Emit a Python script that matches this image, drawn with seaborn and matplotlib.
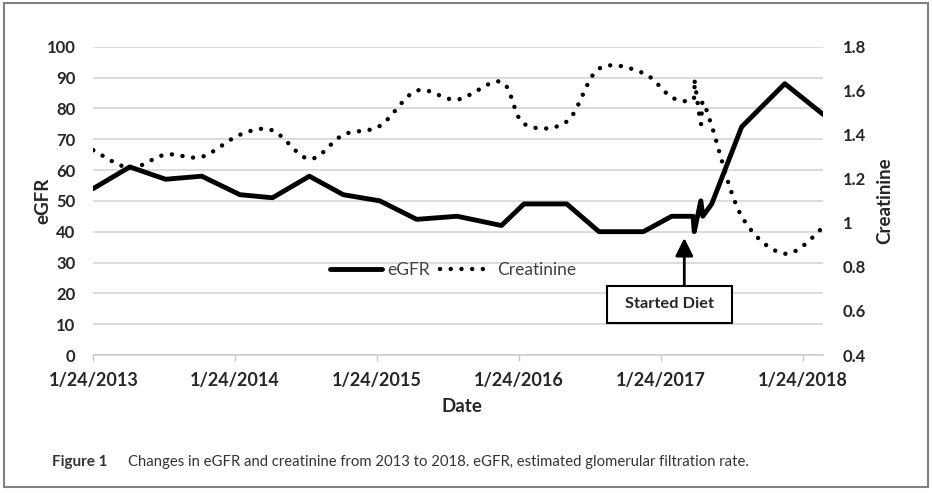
import numpy as np
import pandas as pd
import seaborn as sns
import matplotlib.pyplot as plt
import matplotlib.dates as mdates
from matplotlib.path import Path
from matplotlib.patches import PathPatch, Rectangle
from matplotlib.lines import Line2D

# values
dates = ['2013-01-24', '2013-04-28', '2013-07-29', '2013-10-30', '2014-02-05',
         '2014-04-30', '2014-08-03', '2014-10-29', '2015-01-31', '2015-05-06',
         '2015-08-18', '2015-12-10', '2016-02-06', '2016-05-26', '2016-08-17',
         '2016-12-09', '2017-02-20', '2017-04-16', '2017-04-19', '2017-05-06',
         '2017-05-11', '2017-06-03', '2017-08-19', '2017-12-08', '2018-03-17']
egfr = [54, 61, 57, 58, 52, 51, 58, 52, 50, 44, 45, 42, 49, 49, 40, 40, 45, 45,
        40, 50, 45, 49, 74, 88, 78]
creatinine = [1.33, 1.25, 1.31, 1.30, 1.40, 1.42, 1.29, 1.40, 1.44, 1.60, 1.56,
              1.64, 1.45, 1.46, 1.70, 1.68, 1.57, 1.56, 1.65, 1.45, 1.55, 1.44,
              1.03, 0.86, 0.98]

tick_dates = ['2013-01-24', '2014-01-24', '2015-01-24', '2016-01-24',
              '2017-01-24', '2018-01-24']
tick_labels = ['1/24/2013', '1/24/2014', '1/24/2015', '1/24/2016',
               '1/24/2017', '1/24/2018']
egfr_ticks = list(range(0, 101, 10))
creat_ticks = [0.4, 0.6, 0.8, 1.0, 1.2, 1.4, 1.6, 1.8]
creat_labels = ['0.4', '0.6', '0.8', '1', '1.2', '1.4', '1.6', '1.8']

sns.set_theme(style='white')
plt.rcParams['font.family'] = ['Lato', 'DejaVu Sans']

df = pd.DataFrame({'Date': pd.to_datetime(dates), 'eGFR': egfr,
                   'Creatinine': creatinine})

DOTS = (0, (0.01, 2.4))


def smooth_path(x, y):
    # excel-like smoothed line: catmull-rom segments as cubic beziers
    pts = np.column_stack([x, y])
    ext = np.vstack([pts[0], pts, pts[-1]])
    verts = [pts[0]]
    codes = [Path.MOVETO]
    for i in range(len(pts) - 1):
        p0, p1, p2, p3 = ext[i], ext[i + 1], ext[i + 2], ext[i + 3]
        verts += [p1 + (p2 - p0) / 6, p2 - (p3 - p1) / 6, p2]
        codes += [Path.CURVE4] * 3
    return Path(verts, codes)


fig = plt.figure(figsize=(9.33, 4.93), dpi=100)
ax = fig.add_axes([0.1, 0.2799, 0.7824, 0.6254])

sns.lineplot(data=df, x='Date', y='eGFR', ax=ax, color='black', linewidth=3.5,
             legend=False, solid_joinstyle='round')
ax.set_xlim(df['Date'].iloc[0], df['Date'].iloc[-1])
ax.set_ylim(0, 100)
ax.set_yticks(egfr_ticks)
ax.set_yticklabels([str(t) for t in egfr_ticks])
ax.set_xticks(pd.to_datetime(tick_dates))
ax.set_xticklabels(tick_labels)
ax.yaxis.grid(True, color='#d9d9d9', linewidth=1.3)
ax.set_axisbelow(True)
for s in ['top', 'left', 'right']:
    ax.spines[s].set_visible(False)
ax.spines['bottom'].set_color('#d0d0d0')
ax.spines['bottom'].set_linewidth(1.3)
ax.tick_params(axis='x', length=4, width=1, color='#c8c8c8', pad=8,
               labelsize=13, bottom=True)
ax.tick_params(axis='y', length=0, pad=13, labelsize=12)
for lab in ax.get_xticklabels() + ax.get_yticklabels():
    lab.set_fontweight('bold')
ax.set_xlabel('Date', fontsize=13.5, fontweight='bold')
ax.set_ylabel('eGFR', fontsize=13.5, fontweight='bold')
ax.xaxis.set_label_coords(0.505, -0.14)
ax.yaxis.set_label_coords(-0.058, 0.5)

ax2 = ax.twinx()
ax2.set_ylim(0.4, 1.8)
ax2.set_yticks(creat_ticks)
ax2.set_yticklabels(creat_labels)
for s in ax2.spines.values():
    s.set_visible(False)
ax2.tick_params(axis='y', length=0, pad=14, labelsize=12)
for lab in ax2.get_yticklabels():
    lab.set_fontweight('bold')
ax2.set_ylabel('Creatinine', fontsize=13.5, fontweight='bold')
ax2.yaxis.set_label_coords(1.072, 0.5)

xs = mdates.date2num(df['Date'])
ys = df['Creatinine'].to_numpy()
ax2.add_patch(PathPatch(smooth_path(xs, ys), fill=False, edgecolor='black',
                        linewidth=3.2, linestyle=DOTS, capstyle='round'))

handles = [Line2D([], [], color='black', linewidth=3.5),
           Line2D([], [], color='black', linewidth=3.2, linestyle=DOTS,
                  dash_capstyle='round')]
ax2.legend(handles, ['eGFR', 'Creatinine'], loc='center',
           bbox_to_anchor=(0.493, 0.276), ncol=2, frameon=False, fontsize=12.5,
           handlelength=3.0, handletextpad=0.3, columnspacing=0.6,
           labelcolor='#404040')

# started diet annotation
ax2.annotate('', xy=(0.8096, 0.3794), xytext=(0.8096, 0.2229),
             xycoords='axes fraction', textcoords='axes fraction',
             arrowprops=dict(arrowstyle='-|>,head_length=0.9,head_width=0.45',
                             lw=2, color='black', shrinkA=0, shrinkB=0))
ax2.add_patch(Rectangle((0.7033, 0.1048), 0.1712, 0.119,
                        transform=ax2.transAxes, facecolor='white',
                        edgecolor='black', linewidth=1.5, zorder=5))
ax2.text(0.7889, 0.1643, 'Started Diet', transform=ax2.transAxes,
         ha='center', va='center', fontsize=11.8, fontweight='bold', zorder=6)

fig.text(52 / 933, 1 - 462 / 493, 'Figure 1', fontsize=11,
         fontweight='bold', va='center', color='#333333')
fig.text(128 / 933, 1 - 462 / 493,
         'Changes in eGFR and creatinine from 2013 to 2018. eGFR, estimated '
         'glomerular filtration rate.', fontsize=10.7, va='center',
         color='#333333')

fig.add_artist(Rectangle((4 / 933, 6 / 493), 924 / 933, 484 / 493,
                         transform=fig.transFigure, fill=False,
                         edgecolor='#808080', linewidth=1.5))

fig.savefig('out.png', dpi=100)
